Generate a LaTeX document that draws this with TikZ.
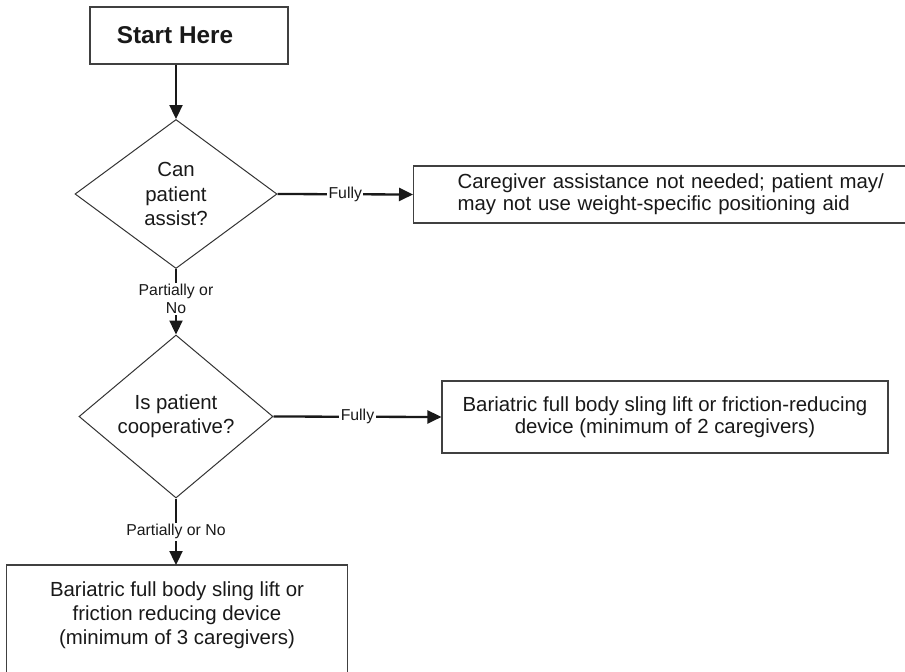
\documentclass[tikz,border=0pt]{standalone}
\usepackage{fontspec}
\setmainfont{Liberation Sans}
\usetikzlibrary{shapes.geometric,arrows.meta}
\begin{document}
\begin{tikzpicture}[x=1pt,y=-1pt,
  every node/.style={text=black!90},
  boxline/.style={draw=black!75, line width=1.1pt},
  boxnode/.style={boxline, fill=white},
  bodytext/.style={font=\fontsize{20.4}{22}\selectfont},
  decision/.style={diamond, draw=black!80, line width=1pt, inner sep=0pt,
    align=center, font=\fontsize{20.4}{24.3}\selectfont},
  flow/.style={line width=2.3pt, draw=black!90,
    -{Triangle[length=14pt,width=13pt]}},
  answer/.style={font=\fontsize{15.8}{18}\selectfont, fill=white,
    inner sep=1.5pt, align=center},
]
\useasboundingbox (0,0) rectangle (905,672);
\fill[white] (0,0) rectangle (905,672);

% start box
\node[boxnode, minimum width=198pt, minimum height=57pt,
  font=\bfseries\fontsize{24.3}{28}\selectfont] (start) at (189,35.5)
  {\hspace*{-28pt}Start Here};

% first decision and its outcome
\node[decision, minimum width=202pt, minimum height=149pt] (q1) at (176,194)
  {Can\\patient\\assist?};
\node[boxnode, bodytext, anchor=west, minimum height=57pt, inner xsep=44pt,
  text width=430pt, align=left] (b1) at (413,194.5)
  {Caregiver assistance not needed; patient may/\\may not use weight-specific positioning aid};

% second decision and its outcomes
\node[decision, minimum width=194pt, minimum height=163pt] (q2) at (176,416.5)
  {Is patient\\cooperative?};
\node[boxnode, bodytext, minimum width=446pt, minimum height=72pt,
  align=center] (b2) at (665,417)
  {Bariatric full body sling lift or friction-reducing\\device (minimum of 2 caregivers)};

\node[anchor=north, minimum width=340pt, inner ysep=17pt, align=center,
  font=\fontsize{20.4}{24}\selectfont] (b3) at (177,565)
  {Bariatric full body sling lift or\\friction reducing device\\(minimum of 3 caregivers)};
\draw[boxline] (b3.north west) rectangle ([yshift=-130pt]b3.south east);

% connectors
\draw[flow] (start.south -| q1.north) -- (q1.north);
\draw[flow] (q1.east) -- node[answer]{Fully} (b1.west);
\draw[flow] (q1.south) -- node[answer, pos=0.46]{Partially or\\No} (q2.north);
\draw[flow] (q2.east) -- node[answer]{Fully} (b2.west);
\draw[flow] (q2.south) -- node[answer]{Partially or No} (q2.south |- b3.north);
\end{tikzpicture}
\end{document}
